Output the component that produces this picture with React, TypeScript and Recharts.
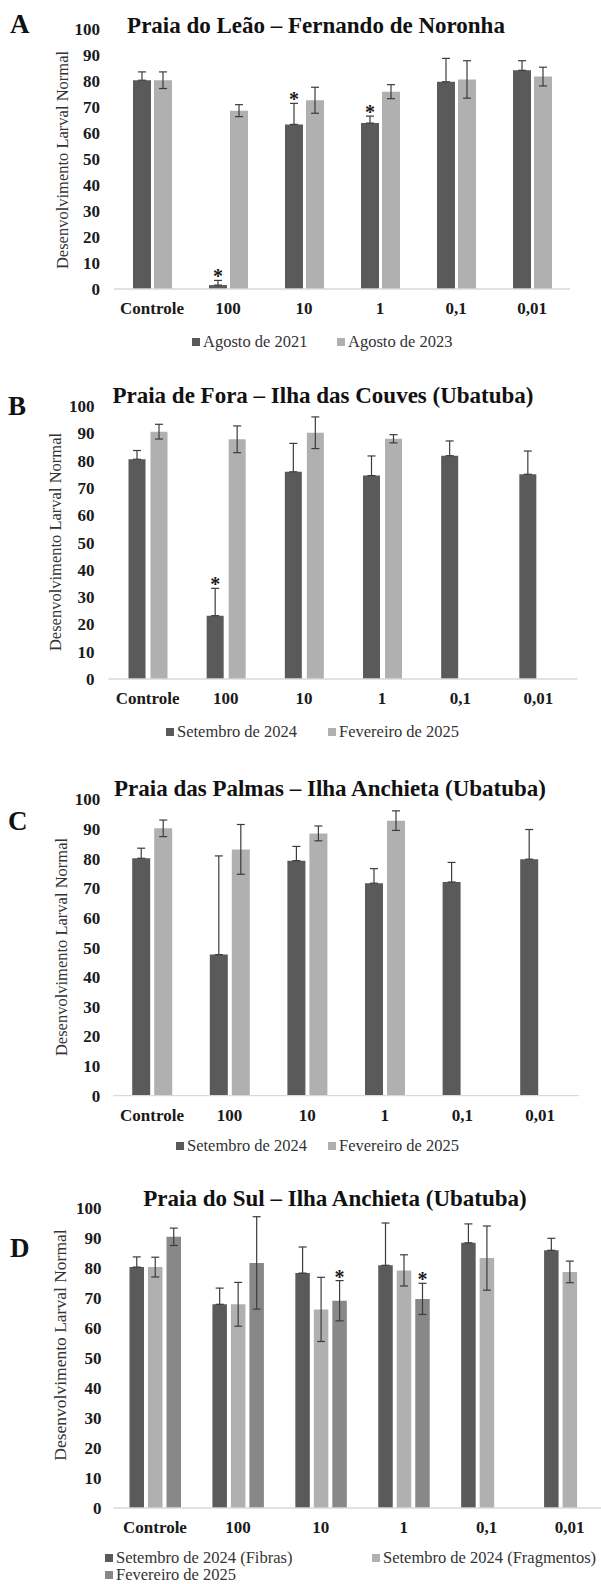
import React from 'react';
import { BarChart, Bar, XAxis, YAxis, ErrorBar, Legend, LabelList } from 'recharts';

const FONT = "'Liberation Serif', 'Times New Roman', serif";

const categories = ['Controle', '100', '10', '1', '0,1', '0,01'];
const yTicks = [0, 10, 20, 30, 40, 50, 60, 70, 80, 90, 100];

// Panel A – Praia do Leão
const aTitle = 'Praia do Leão – Fernando de Noronha';
const aAgo2021 = [80.3, 1.5, 63.3, 63.8, 79.7, 84.1];
const aAgo2021Err = [3.2, 1.8, 8.1, 2.7, 9.0, 3.7];
const aAgo2021Sig = [false, true, true, true, false, false];
const aAgo2023 = [80.3, 68.6, 72.6, 75.9, 80.6, 81.7];
const aAgo2023Err = [3.2, 2.3, 5.0, 2.7, 7.2, 3.6];
const aAgo2023Sig = [false, false, false, false, false, false];

// Panel B – Praia de Fora
const bTitle = 'Praia de Fora – Ilha das Couves (Ubatuba)';
const bSet2024 = [80.5, 23.2, 75.9, 74.5, 81.8, 75.0];
const bSet2024Err = [3.2, 10.0, 10.4, 7.2, 5.4, 8.5];
const bSet2024Sig = [false, true, false, false, false, false];
const bFev2025 = [90.6, 87.8, 90.2, 88.0, null, null];
const bFev2025Err = [2.7, 4.9, 5.8, 1.5, null, null];
const bFev2025Sig = [false, false, false, false, false, false];

// Panel C – Praia das Palmas
const cTitle = 'Praia das Palmas – Ilha Anchieta (Ubatuba)';
const cSet2024 = [80.1, 47.6, 79.3, 71.7, 72.1, 79.8];
const cSet2024Err = [3.4, 33.3, 4.8, 4.9, 6.6, 10.0];
const cSet2024Sig = [false, false, false, false, false, false];
const cFev2025 = [90.2, 83.1, 88.5, 92.8, null, null];
const cFev2025Err = [2.8, 8.4, 2.5, 3.3, null, null];
const cFev2025Sig = [false, false, false, false, false, false];

// Panel D – Praia do Sul
const dTitle = 'Praia do Sul – Ilha Anchieta (Ubatuba)';
const dFibras = [80.3, 67.9, 78.3, 80.9, 88.4, 85.9];
const dFibrasErr = [3.4, 5.4, 8.7, 14.1, 6.3, 4.0];
const dFibrasSig = [false, false, false, false, false, false];
const dFragmentos = [80.3, 67.9, 66.2, 79.2, 83.3, 78.7];
const dFragmentosErr = [3.3, 7.3, 10.7, 5.2, 10.7, 3.6];
const dFragmentosSig = [false, false, false, false, false, false];
const dFev2025 = [90.4, 81.7, 69.1, 69.7, null, null];
const dFev2025Err = [2.9, 15.4, 6.7, 5.2, null, null];
const dFev2025Sig = [false, false, true, true, false, false];

const DARK = '#5a5a5a';
const LIGHT = '#b0b0b0';
const MID = '#888888';

type Series = { name: string; values: (number | null)[]; errors: (number | null)[]; sig: boolean[]; color: string; upOnly?: boolean };

type PanelCfg = {
  letter: string;
  title: string;
  series: Series[];
  top: number;
  height: number;
  chartWidth: number;
  plotTop: number;
  plotBottom: number;
  plotLeft: number;
  plotRight: number;
  tickMargin: number;
  barSize: number;
  barGap: number;
  legendPos: { x: number; y: number }[];
  titleX: number;
  titleY: number;
  letterX: number;
  letterY: number;
  yTitleX: number;
  yTitleY: number;
  yTitleSize: number;
};

const panels: PanelCfg[] = [
  {
    letter: 'A', title: aTitle,
    series: [
      { name: 'Agosto de 2021', values: aAgo2021, errors: aAgo2021Err, sig: aAgo2021Sig, color: DARK, upOnly: true },
      { name: 'Agosto de 2023', values: aAgo2023, errors: aAgo2023Err, sig: aAgo2023Sig, color: LIGHT },
    ],
    top: 0, height: 365, chartWidth: 601,
    plotTop: 29, plotBottom: 289, plotLeft: 114, plotRight: 570, tickMargin: 14,
    barSize: 18, barGap: 3,
    legendPos: [{ x: 192, y: 342 }, { x: 337, y: 342 }],
    titleX: 316, titleY: 32.5, letterX: 10, letterY: 33, yTitleX: 62, yTitleY: 160, yTitleSize: 16.5,
  },
  {
    letter: 'B', title: bTitle,
    series: [
      { name: 'Setembro de 2024', values: bSet2024, errors: bSet2024Err, sig: bSet2024Sig, color: DARK, upOnly: true },
      { name: 'Fevereiro de 2025', values: bFev2025, errors: bFev2025Err, sig: bFev2025Sig, color: LIGHT },
    ],
    top: 380, height: 370, chartWidth: 601,
    plotTop: 26, plotBottom: 299, plotLeft: 108.5, plotRight: 577.5, tickMargin: 14,
    barSize: 17, barGap: 5,
    legendPos: [{ x: 166, y: 352 }, { x: 328, y: 352 }],
    titleX: 323, titleY: 22.5, letterX: 8, letterY: 35, yTitleX: 55, yTitleY: 162, yTitleSize: 16.5,
  },
  {
    letter: 'C', title: cTitle,
    series: [
      { name: 'Setembro de 2024', values: cSet2024, errors: cSet2024Err, sig: cSet2024Sig, color: DARK, upOnly: true },
      { name: 'Fevereiro de 2025', values: cFev2025, errors: cFev2025Err, sig: cFev2025Sig, color: LIGHT },
    ],
    top: 760, height: 405, chartWidth: 601,
    plotTop: 39.3, plotBottom: 335.7, plotLeft: 113.2, plotRight: 578.8, tickMargin: 13,
    barSize: 18, barGap: 4,
    legendPos: [{ x: 176, y: 386 }, { x: 328, y: 386 }],
    titleX: 330, titleY: 35.5, letterX: 8, letterY: 70, yTitleX: 61, yTitleY: 187, yTitleSize: 16.5,
  },
  {
    letter: 'D', title: dTitle,
    series: [
      { name: 'Setembro de 2024 (Fibras)', values: dFibras, errors: dFibrasErr, sig: dFibrasSig, color: DARK, upOnly: true },
      { name: 'Setembro de 2024 (Fragmentos)', values: dFragmentos, errors: dFragmentosErr, sig: dFragmentosSig, color: LIGHT },
      { name: 'Fevereiro de 2025', values: dFev2025, errors: dFev2025Err, sig: dFev2025Sig, color: MID },
    ],
    top: 1180, height: 404, chartWidth: 612,
    plotTop: 28, plotBottom: 328, plotLeft: 113.5, plotRight: 611, tickMargin: 12,
    barSize: 14.5, barGap: 4,
    legendPos: [{ x: 105, y: 378 }, { x: 372, y: 378 }, { x: 105, y: 395 }],
    titleX: 335, titleY: 25.5, letterX: 10, letterY: 77, yTitleX: 60, yTitleY: 165, yTitleSize: 17.5,
  },
];

const X_AXIS_H = 30;
const Y_AXIS_W = 60;

function makeStar(s: Series) {
  return (props: any) => {
    const { x, y, width, height, value, index } = props;
    if (!s.sig[index] || value == null) return null;
    const err = s.errors[index] || 0;
    const pxPerUnit = Number(height) / Number(value);
    const capY = Number(y) - err * pxPerUnit;
    return (
      <text x={Number(x) + Number(width) / 2} y={capY + 3} textAnchor="middle" fontFamily={FONT}
        fontWeight={700} fontSize={20} fill="#1a1a1a">*</text>
    );
  };
}

function makeLegend(p: PanelCfg) {
  return (props: any) => {
    const payload: any[] = props.payload || [];
    return (
      <div style={{ position: 'relative', width: 601, height: 1 }}>
        {p.series.map((s, i) => {
          const pos = p.legendPos[i];
          const item = payload.find((it: any) => it.value === s.name);
          const color = (item && item.color) || s.color;
          return (
            <div key={i} style={{ position: 'absolute', left: pos.x, top: pos.y - 9, height: 18, display: 'flex', alignItems: 'center', whiteSpace: 'nowrap' }}>
              <span style={{ display: 'inline-block', width: 8, height: 8, background: color, marginRight: 3 }} />
              <span style={{ fontFamily: FONT, fontSize: 16.5, color: '#333', lineHeight: '18px' }}>{s.name}</span>
            </div>
          );
        })}
      </div>
    );
  };
}

function Panel({ p }: { p: PanelCfg }) {
  const data = categories.map((c, i) => {
    const row: any = { cat: c };
    p.series.forEach((s, k) => {
      const v = s.values[i];
      const e = s.errors[i];
      row['v' + k] = v;
      row['e' + k] = e == null ? null : s.upOnly ? [0, e] : e;
    });
    return row;
  });
  const margin = {
    top: p.plotTop,
    left: p.plotLeft - Y_AXIS_W,
    right: p.chartWidth - p.plotRight,
    bottom: p.height - p.plotBottom - X_AXIS_H,
  };
  return (
    <div style={{ position: 'absolute', left: 0, top: p.top, width: 601, height: p.height, overflow: 'hidden' }}>
      <BarChart width={p.chartWidth} height={p.height} data={data} margin={margin} barSize={p.barSize} barGap={p.barGap}>
        <XAxis dataKey="cat" height={X_AXIS_H} interval={0} tickLine={false} tickSize={0} tickMargin={13}
          axisLine={{ stroke: '#d9d9d9', strokeWidth: 1.3 }}
          tick={{ fill: '#1a1a1a', fontSize: 17, fontWeight: 700, fontFamily: FONT }} />
        <YAxis width={Y_AXIS_W} domain={[0, 100]} ticks={yTicks} interval={0} allowDataOverflow
          axisLine={false} tickLine={false} tickSize={0} tickMargin={p.tickMargin}
          tick={{ fill: '#1a1a1a', fontSize: 17, fontWeight: 700, fontFamily: FONT }} />
        {p.series.map((s, k) => (
          <Bar key={k} dataKey={'v' + k} name={s.name} fill={s.color} isAnimationActive={false}>
            <ErrorBar dataKey={'e' + k} width={4} stroke="#3c3c3c" strokeWidth={1.2} direction="y" />
            <LabelList dataKey={'v' + k} content={makeStar(s)} />
          </Bar>
        ))}
        <Legend layout="horizontal" verticalAlign="middle" align="center"
          wrapperStyle={{ position: 'absolute', left: 0, top: 0, width: 601 }}
          content={makeLegend(p)} />
      </BarChart>
    </div>
  );
}

export default function App() {
  return (
    <div style={{ position: 'absolute', left: 0, top: 0, width: 601, height: 1584, background: '#fff', overflow: 'hidden' }}>
      {panels.map((p, i) => <Panel key={i} p={p} />)}
      <svg width={601} height={1584} style={{ position: 'absolute', left: 0, top: 0, pointerEvents: 'none' }}>
        {panels.map((p, i) => (
          <g key={i}>
            <text x={p.letterX} y={p.top + p.letterY} fontFamily={FONT} fontWeight={700} fontSize={27} fill="#111">{p.letter}</text>
            <text x={p.titleX} y={p.top + p.titleY} textAnchor="middle" fontFamily={FONT} fontWeight={700} fontSize={23} fill="#111">{p.title}</text>
            <text x={p.yTitleX} y={p.top + p.yTitleY} textAnchor="middle" dominantBaseline="central"
              transform={`rotate(-90 ${p.yTitleX} ${p.top + p.yTitleY})`} fontFamily={FONT} fontSize={p.yTitleSize} fill="#333">
              Desenvolvimento Larval Normal
            </text>
          </g>
        ))}
      </svg>
    </div>
  );
}
